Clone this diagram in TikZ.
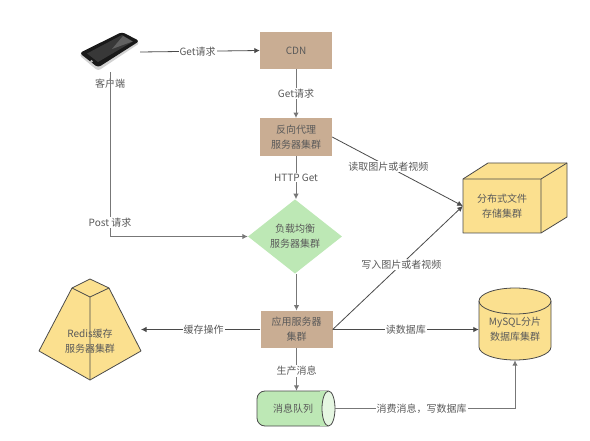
\documentclass[tikz,border=0pt]{standalone}
\usepackage{xcolor}
\usepackage{fontspec}
\setmainfont{Noto Sans CJK SC}
\usetikzlibrary{arrows.meta, positioning, calc, shapes.geometric}
\definecolor{archTan}{HTML}{C9AD93}
\definecolor{archGreen}{HTML}{BDE8B5}
\definecolor{archYellow}{HTML}{FBE08F}
\definecolor{archLine}{HTML}{4A4A4A}
\definecolor{archText}{HTML}{5A5A5A}
\tikzset{
  archtext/.style={font=\fontsize{10}{15}\selectfont, text=archText, align=center},
  svcbox/.style={archtext, fill=archTan, minimum width=72pt, minimum height=37.5pt, inner sep=0pt},
  ghostbox/.style={archtext, inner sep=0pt},
  edge/.style={draw=archLine, line width=0.8pt, -{Latex[length=5.5pt, width=5.5pt]}},
  graphedge/.style={edge, draw=archLine!75, line width=1pt},
  edgelabel/.style={archtext, fill=white, inner sep=1pt},
  yellowpart/.style={fill=archYellow, draw=archLine, line width=0.8pt, line join=round},
}
\begin{document}
\begin{tikzpicture}[x=1pt, y=-1pt]
\useasboundingbox (0,0) rectangle (590,441);
% phone
\node[ghostbox, minimum width=60pt, minimum height=40pt] (phone) at (110,52) {};
\fill[gray!35, rounded corners=3pt] (79,55) -- (122,32) -- (140,43) -- (98,71) -- cycle;
\fill[black!90, rounded corners=3pt] (79.5,53) -- (122,32) -- (139.5,41) -- (98,67.5) -- cycle;
\fill[black!78] (87,53.5) -- (122,35) -- (133,41.5) -- (98,62) -- cycle;
\fill[black!62] (112,49) -- (123,36) -- (132.5,41.5) -- cycle;
\fill[gray!60] (91.5,61.5) circle (1.5pt);
\node[ghostbox] (clientlabel) at (110,84) {客户端};
% service boxes
\node[svcbox] (cdn) at (296,50.5) {CDN};
\node[svcbox] (proxy) at (296,137) {反向代理\\服务器集群};
\node[archtext, shape=diamond, fill=archGreen, minimum width=94pt, minimum height=63pt, inner sep=0pt] (balance) at (295,236.5) {负载均衡\\服务器集群};
\node[svcbox] (app) at (296.5,329.5) {应用服务器\\集群};
% message queue
\draw[fill=archGreen, draw=archLine, line width=0.8pt, rounded corners=8pt]
  (328,391) -- (257,391) -- (257,426) -- (328,426);
\fill[archGreen] (320,391.4) rectangle (328,425.6);
\draw[fill=archGreen!40, draw=archLine, line width=0.8pt] (328.5,408.5) ellipse (6.5pt and 17.5pt);
\node[ghostbox, minimum width=78pt, minimum height=35pt] (queue) at (296,408.5) {};
\node[ghostbox] (queuelabel) at (293,408.5) {消息队列};
% file storage
\draw[yellowpart] (463,179) -- (488,163) -- (567,163) -- (567,217) -- (541,233) -- (463,233) -- cycle;
\draw[yellowpart, fill=none] (463,179) -- (541,179) -- (541,233) (541,179) -- (567,163);
\node[ghostbox, minimum width=78pt, minimum height=54pt] (storage) at (502,206) {分布式文件\\存储集群};
% mysql
\draw[yellowpart] (479,301) -- (479,347) arc[start angle=180, end angle=360, x radius=36pt, y radius=13pt]
  -- (551,301) arc[start angle=0, end angle=180, x radius=36pt, y radius=13pt] -- cycle;
\draw[yellowpart, fill=none] (479,301) arc[start angle=180, end angle=360, x radius=36pt, y radius=13pt];
\node[ghostbox, minimum width=72pt, minimum height=72pt] (mysql) at (515,324) {};
\node[ghostbox] (mysqllabel) at (515,329.5) {MySQL分片\\数据库集群};
% redis
\draw[yellowpart] (90,279) -- (109,288) -- (141,351) -- (90,380) -- (39,351) -- (72,288) -- cycle;
\draw[yellowpart, fill=none] (72,288) -- (90,297) -- (109,288) (90,297) -- (90,380);
\node[ghostbox] (redis) at (90,341) {Redis缓存\\服务器集群};
\coordinate (redisport) at (141,329.5);
% connectors
\draw[edge] (phone.east) -- node[edgelabel, pos=.48] (getclient) {Get请求} (cdn.west);
\draw[graphedge] (cdn) -- node[edgelabel] (getcdn) {Get请求} (proxy);
\draw[graphedge] (proxy) -- node[edgelabel] (httpget) {HTTP Get} (proxy |- balance.north);
\draw[graphedge] (phone.south) |- node[edgelabel, pos=.457] (postreq) {Post 请求} (balance.west);
\draw[graphedge] (app |- balance.south) -- (app);
\draw[edge] (app.west) -- node[edgelabel, pos=.475] (cacheop) {缓存操作} (redisport);
\draw[graphedge] (app) -- node[edgelabel, pos=.53] (produce) {生产消息} (app |- queue.north);
\draw[edge] (proxy.east) -- node[edgelabel, pos=.43] (readimg) {读取图片或者视频} (storage.west);
\draw[edge] (app.east) -- node[edgelabel, pos=.527] (writeimg) {写入图片或者视频} (storage.west);
\draw[edge] (app.east) -- node[edgelabel] (readdb) {读数据库} (mysql.west |- app.east);
\draw[graphedge] (queue.east) -| node[edgelabel, pos=.24] (consume) {消费消息，写数据库} (mysql.south);
\end{tikzpicture}
\end{document}
